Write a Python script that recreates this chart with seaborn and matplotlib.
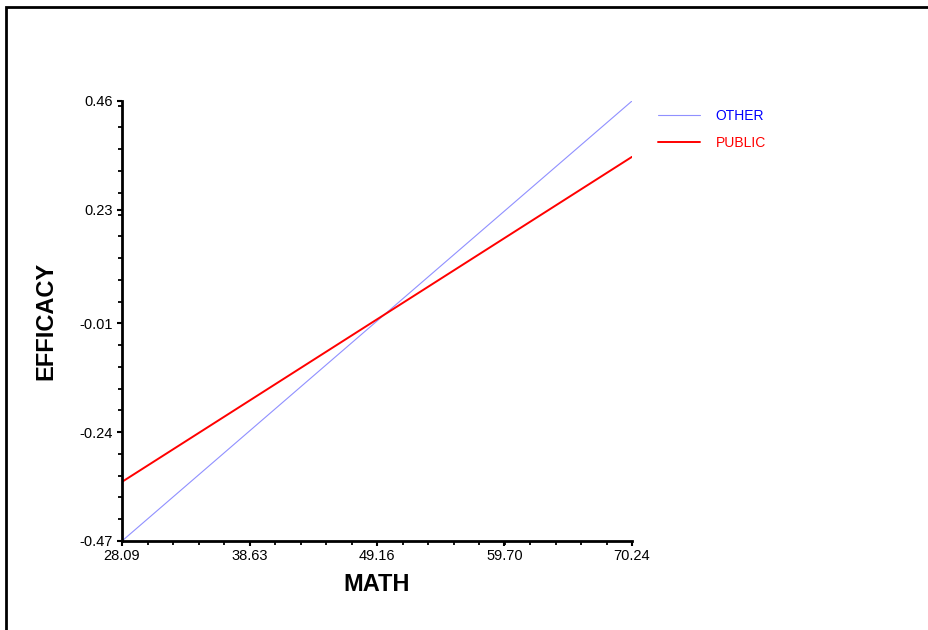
import matplotlib
matplotlib.use("Agg")
import matplotlib.pyplot as plt
from matplotlib.ticker import FixedLocator, AutoMinorLocator
from matplotlib.lines import Line2D
from matplotlib.patches import Rectangle
import seaborn as sns
import pandas as pd

math_x = [28.09, 70.24]
other_y = [-0.47, 0.46]
public_y = [-0.345, 0.342]
x_ticks = [28.09, 38.63, 49.16, 59.70, 70.24]
y_ticks = [-0.47, -0.24, -0.01, 0.23, 0.46]
groups = ["OTHER", "PUBLIC"]

df = pd.DataFrame({
    "MATH": math_x + math_x,
    "EFFICACY": other_y + public_y,
    "GROUP": [groups[0]] * 2 + [groups[1]] * 2,
})

sns.set_style("ticks")
plt.rcParams["font.family"] = ["Liberation Sans", "DejaVu Sans"]
plt.rcParams["text.color"] = "black"
plt.rcParams["axes.labelcolor"] = "black"
plt.rcParams["xtick.color"] = "black"
plt.rcParams["ytick.color"] = "black"

fig = plt.figure(figsize=(9.29, 6.3), dpi=100)
fig.patches.append(Rectangle((6.5 / 929, -0.01), 1.2, 1 - 7.5 / 630 + 0.01,
                             transform=fig.transFigure, fill=False,
                             edgecolor="black", linewidth=2))
ax = fig.add_axes([122 / 929, 1 - 541 / 630, (632 - 122) / 929, (541 - 101) / 630])

palette = {"OTHER": "#9090ff", "PUBLIC": "#ff0000"}
sizes = {"OTHER": 0.8, "PUBLIC": 1.4}
sns.lineplot(data=df, x="MATH", y="EFFICACY", hue="GROUP", palette=palette,
             size="GROUP", sizes=sizes, ax=ax, legend=False, estimator=None)

ax.set_xlim(x_ticks[0], x_ticks[-1])
ax.set_ylim(y_ticks[0], y_ticks[-1])
ax.xaxis.set_major_locator(FixedLocator(x_ticks))
ax.yaxis.set_major_locator(FixedLocator(y_ticks))
ax.set_xticklabels([f"{v:.2f}" for v in x_ticks])
ax.set_yticklabels([f"{v:.2f}" for v in y_ticks])
ax.xaxis.set_minor_locator(AutoMinorLocator(5))
ax.yaxis.set_minor_locator(AutoMinorLocator(5))
ax.tick_params(axis="both", which="major", length=3.8, width=1.5, labelsize=10.5,
               color="black", labelcolor="black")
ax.tick_params(axis="x", which="major", pad=2)
ax.tick_params(axis="y", which="major", pad=2.8)
ax.tick_params(axis="both", which="minor", length=2.8, width=1.3, color="black")
for s in ["top", "right"]:
    ax.spines[s].set_visible(False)
for s in ["left", "bottom"]:
    ax.spines[s].set_linewidth(2)
    ax.spines[s].set_color("black")

ax.set_xlabel("MATH", fontsize=17, fontweight="bold", color="black")
ax.set_ylabel("EFFICACY", fontsize=17, fontweight="bold", color="black")
ax.xaxis.set_label_coords(0.5, -0.073)
ax.yaxis.set_label_coords(-0.127, 0.5)

handles = [Line2D([], [], color=palette[g], lw=sizes[g]) for g in groups]
leg = fig.legend(handles, groups, loc="upper left",
                 bbox_to_anchor=(646 / 929, 1 - 96 / 630),
                 frameon=False, fontsize=10, handlelength=3.0, handletextpad=1.1,
                 labelspacing=0.95, labelcolor=["#0000ff", "#ff0000"])

fig.savefig("out.png", dpi=100)
